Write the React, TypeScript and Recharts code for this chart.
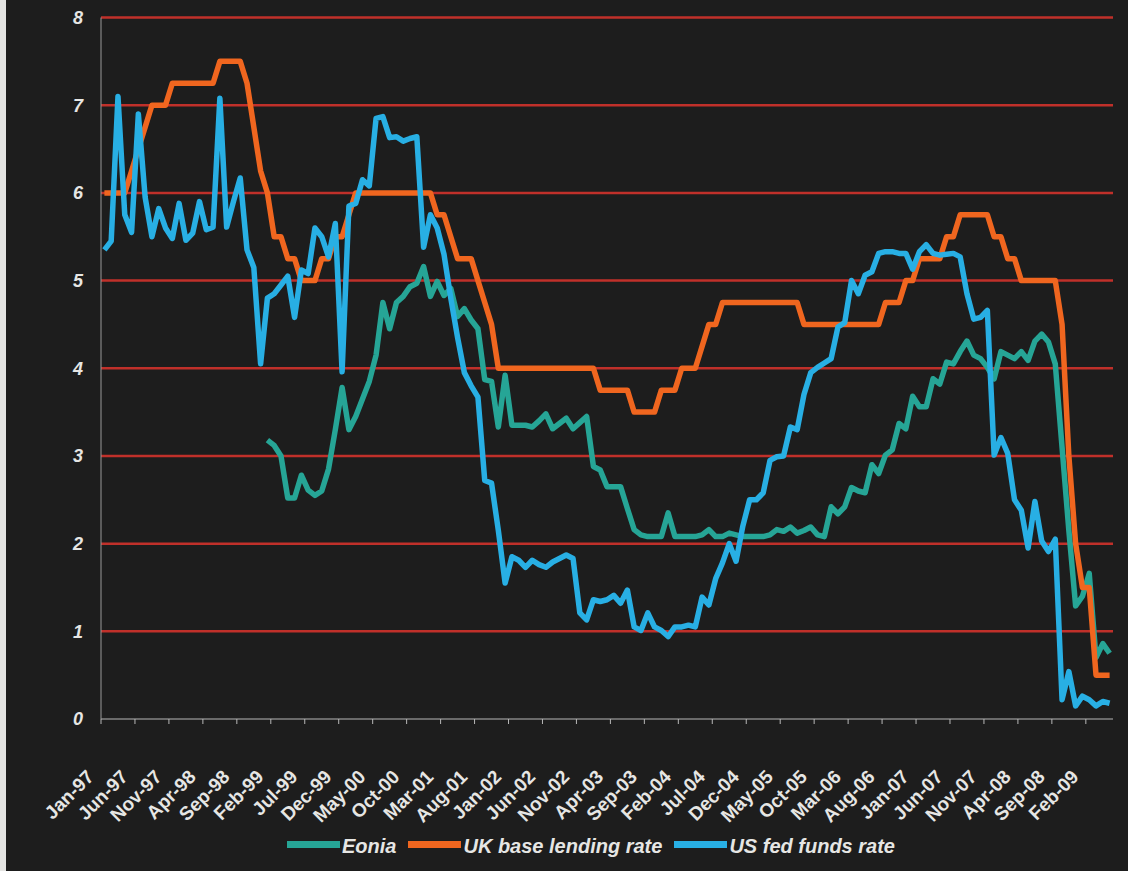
import React from 'react';
import { LineChart, Line, XAxis, YAxis, CartesianGrid, Legend } from 'recharts';

// Monthly observations, Jan-97 .. May-09 (149 months)
const tickLabels = [
  'Jan-97', 'Jun-97', 'Nov-97', 'Apr-98', 'Sep-98', 'Feb-99', 'Jul-99', 'Dec-99',
  'May-00', 'Oct-00', 'Mar-01', 'Aug-01', 'Jan-02', 'Jun-02', 'Nov-02', 'Apr-03',
  'Sep-03', 'Feb-04', 'Jul-04', 'Dec-04', 'May-05', 'Oct-05', 'Mar-06', 'Aug-06',
  'Jan-07', 'Jun-07', 'Nov-07', 'Apr-08', 'Sep-08', 'Feb-09',
];
const TICK_EVERY = 5;

const ukBase = [
  6, 6, 6, 6, 6.25, 6.5, 6.75, 7, 7, 7, 7.25, 7.25,
  7.25, 7.25, 7.25, 7.25, 7.25, 7.5, 7.5, 7.5, 7.5, 7.25, 6.75, 6.25,
  6, 5.5, 5.5, 5.25, 5.25, 5, 5, 5, 5.25, 5.25, 5.5, 5.5,
  5.75, 6, 6, 6, 6, 6, 6, 6, 6, 6, 6, 6,
  6, 5.75, 5.75, 5.5, 5.25, 5.25, 5.25, 5, 4.75, 4.5, 4, 4,
  4, 4, 4, 4, 4, 4, 4, 4, 4, 4, 4, 4,
  4, 3.75, 3.75, 3.75, 3.75, 3.75, 3.5, 3.5, 3.5, 3.5, 3.75, 3.75,
  3.75, 4, 4, 4, 4.25, 4.5, 4.5, 4.75, 4.75, 4.75, 4.75, 4.75,
  4.75, 4.75, 4.75, 4.75, 4.75, 4.75, 4.75, 4.5, 4.5, 4.5, 4.5, 4.5,
  4.5, 4.5, 4.5, 4.5, 4.5, 4.5, 4.5, 4.75, 4.75, 4.75, 5, 5,
  5.25, 5.25, 5.25, 5.25, 5.5, 5.5, 5.75, 5.75, 5.75, 5.75, 5.75, 5.5,
  5.5, 5.25, 5.25, 5, 5, 5, 5, 5, 5, 4.5, 3, 2,
  1.5, 1.5, 0.5, 0.5, 0.5,
];

const usFed = [
  5.35, 5.45, 7.1, 5.75, 5.55, 6.9, 5.95, 5.5, 5.82, 5.6, 5.48, 5.88,
  5.46, 5.54, 5.9, 5.58, 5.61, 7.08, 5.61, 5.9, 6.17, 5.35, 5.15, 4.05,
  4.8, 4.85, 4.95, 5.05, 4.58, 5.12, 5.08, 5.6, 5.5, 5.27, 5.65, 3.96,
  5.85, 5.88, 6.15, 6.08, 6.85, 6.87, 6.63, 6.64, 6.59, 6.62, 6.64, 5.38,
  5.75, 5.6, 5.3, 4.8, 4.35, 3.95, 3.8, 3.67, 2.72, 2.69, 2.15, 1.55,
  1.85, 1.81, 1.73, 1.81, 1.76, 1.73, 1.79, 1.83, 1.87, 1.83, 1.21, 1.13,
  1.36, 1.34, 1.36, 1.41, 1.32, 1.47, 1.05, 1.01, 1.21, 1.05, 1.01, 0.94,
  1.05, 1.05, 1.07, 1.05, 1.39, 1.3, 1.6, 1.78, 2.0, 1.8, 2.2, 2.5,
  2.5, 2.58, 2.95, 2.99, 3.0, 3.33, 3.3, 3.7, 3.95, 4.01, 4.06, 4.11,
  4.47, 4.52, 5.0, 4.85, 5.06, 5.1, 5.31, 5.33, 5.33, 5.31, 5.31, 5.13,
  5.33, 5.41, 5.31, 5.29, 5.3, 5.31, 5.27, 4.85, 4.56, 4.58, 4.66, 3.01,
  3.21, 3.03, 2.5, 2.38, 1.95, 2.48, 2.03, 1.91, 2.05, 0.22, 0.54, 0.15,
  0.26, 0.22, 0.15, 0.2, 0.18,
];

// Eonia starts with the euro, Jan-99
const EONIA_START = 24;
const eonia = [
  3.18, 3.12, 3.0, 2.52, 2.52, 2.78, 2.61, 2.55, 2.6, 2.85, 3.3, 3.78,
  3.3, 3.45, 3.65, 3.85, 4.15, 4.75, 4.45, 4.75, 4.82, 4.93, 4.97, 5.16,
  4.82, 4.99, 4.83, 4.91, 4.59, 4.68, 4.55, 4.45, 3.87, 3.85, 3.33, 3.92,
  3.35, 3.35, 3.35, 3.33, 3.4, 3.48, 3.31, 3.37, 3.43, 3.31, 3.38, 3.45,
  2.88, 2.84, 2.65, 2.65, 2.65, 2.4, 2.16, 2.1, 2.08, 2.08, 2.08, 2.35,
  2.08, 2.08, 2.08, 2.08, 2.1, 2.16, 2.08, 2.08, 2.12, 2.1, 2.08, 2.08,
  2.08, 2.08, 2.1, 2.16, 2.14, 2.19, 2.12, 2.15, 2.19, 2.1, 2.08, 2.42,
  2.34, 2.42, 2.64, 2.6, 2.58, 2.9, 2.8, 3.01, 3.07, 3.37, 3.31, 3.68,
  3.56, 3.56, 3.88, 3.82, 4.07, 4.05, 4.19, 4.31, 4.15, 4.11, 4.01, 3.88,
  4.19, 4.15, 4.11, 4.19, 4.09, 4.31, 4.39, 4.3, 4.05, 3.1, 2.15, 1.29,
  1.4, 1.66, 0.7, 0.86, 0.75,
];

const yTicks = [0, 1, 2, 3, 4, 5, 6, 7, 8];
const gridValues = [1, 2, 3, 4, 5, 6, 7, 8];

const series = [
  { key: 'eonia', name: 'Eonia', color: '#26a596' },
  { key: 'uk', name: 'UK base lending rate', color: '#f0661f' },
  { key: 'us', name: 'US fed funds rate', color: '#28afe4' },
];

const rows = ukBase.map((uk, i) => ({
  i,
  uk,
  us: usFed[i],
  eonia: i >= EONIA_START ? eonia[i - EONIA_START] : null,
}));

// ticks sit on the boundary in front of every fifth month
const xTicks = tickLabels.map((_, k) => k * TICK_EVERY - 0.5);

const FONT = '"Liberation Sans", Arial, sans-serif';
const TEXT = '#e6e6e4';

const MonthTick = (props: any) => {
  const { x, y, payload } = props;
  const k = Math.round((payload.value + 0.5) / TICK_EVERY);
  const tx = x - 6;
  const ty = y + 54;
  return (
    <text
      x={tx}
      y={ty}
      transform={`rotate(-45 ${tx} ${ty})`}
      textAnchor="end"
      fill={TEXT}
      fontSize={19}
      fontWeight="bold"
      fontFamily={FONT}
    >
      {tickLabels[k]}
    </text>
  );
};

const LegendRow = () => (
  <div style={{ display: 'flex', alignItems: 'center', height: 26, fontFamily: FONT, fontSize: 20, fontWeight: 'bold', fontStyle: 'italic', color: TEXT, whiteSpace: 'nowrap' }}>
    {series.map((s) => (
      <div key={s.key} style={{ display: 'flex', alignItems: 'center', marginRight: 12 }}>
        <span style={{ display: 'inline-block', width: 53, height: 7, background: s.color, marginRight: 2, marginTop: -3 }} />
        <span>{s.name}</span>
      </div>
    ))}
  </div>
);

export default function App() {
  return (
    <div style={{ position: 'absolute', left: 0, top: 0, width: 1128, height: 871, background: '#1d1d1d', overflow: 'hidden' }}>
      <div style={{ position: 'absolute', left: 0, top: 0, width: 6, height: 871, background: '#e4e4e2' }} />
      <LineChart width={1128} height={871} data={rows} margin={{ top: 17.5, right: 15, left: 41, bottom: 12 }}>
        <CartesianGrid horizontal vertical={false} horizontalValues={gridValues} stroke="#c0302a" strokeWidth={2.5} />
        <XAxis
          dataKey="i"
          type="number"
          domain={[-0.5, 148.5]}
          ticks={xTicks}
          interval={0}
          height={114}
          tickSize={5}
          tickMargin={0}
          tick={<MonthTick />}
          axisLine={{ stroke: '#b8b8b8', strokeWidth: 1 }}
          tickLine={{ stroke: '#b8b8b8', strokeWidth: 1 }}
        />
        <YAxis
          domain={[0, 8]}
          ticks={yTicks}
          width={60}
          tickSize={0}
          tickMargin={18}
          tickLine={false}
          axisLine={{ stroke: '#9a9a9a', strokeWidth: 1 }}
          tick={{ fill: TEXT, fontSize: 18, fontWeight: 'bold', fontStyle: 'italic', fontFamily: FONT }}
        />
        <Legend content={<LegendRow />} height={26} wrapperStyle={{ left: 287, bottom: 12, width: 'auto' }} />
        {series.map((s) => (
          <Line
            key={s.key}
            dataKey={s.key}
            name={s.name}
            stroke={s.color}
            strokeWidth={5.5}
            strokeLinejoin="round"
            dot={false}
            activeDot={false}
            type="linear"
            isAnimationActive={false}
          />
        ))}
      </LineChart>
    </div>
  );
}
